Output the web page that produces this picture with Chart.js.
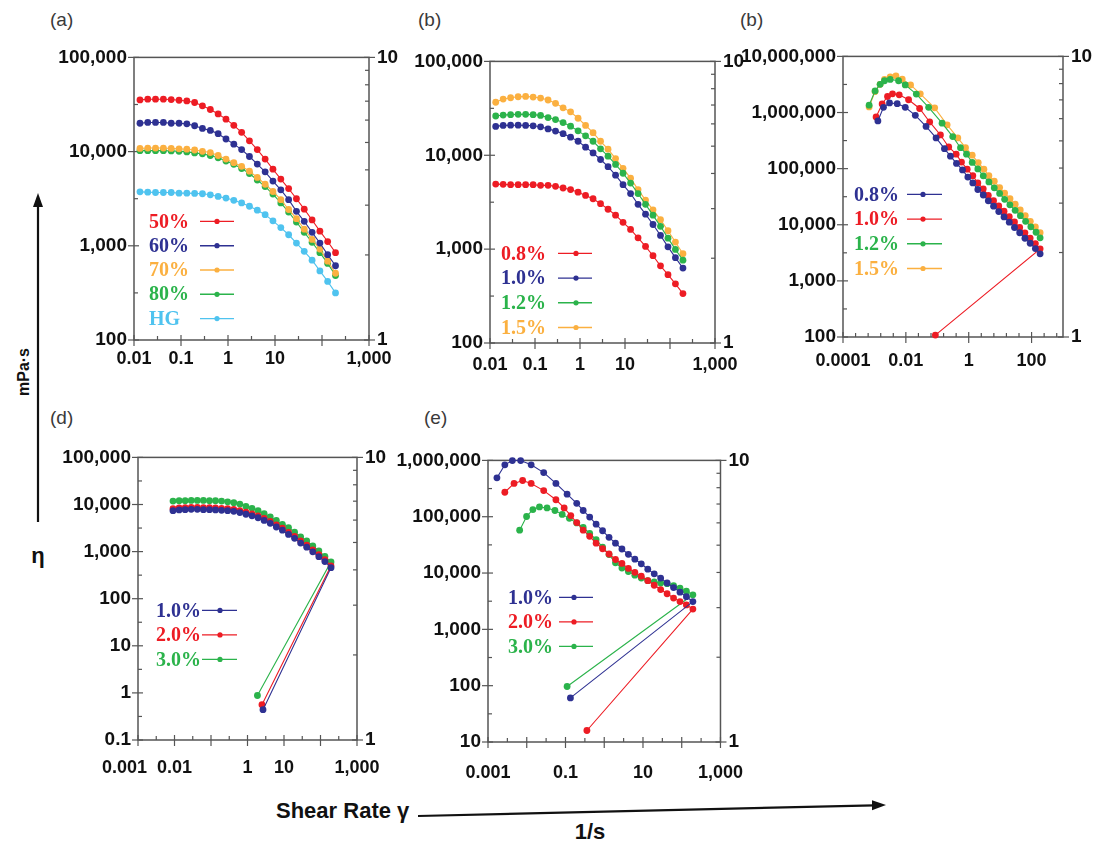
<!DOCTYPE html>
<html>
<head>
<meta charset="utf-8">
<script src="https://cdn.jsdelivr.net/npm/chart.js@4.4.1/dist/chart.umd.min.js"></script>
<style>
  body { margin:0; background:#fff; width:1097px; height:841px; position:relative; overflow:hidden; font-family:"Liberation Sans", Arial, sans-serif; }
  canvas.panel { position:absolute; }
  .tag { position:absolute; font-size:19px; line-height:20px; color:#3a3a3a; }
  .big { position:absolute; font-weight:bold; color:#111; white-space:nowrap; }
</style>
</head>
<body>
<svg width="1097" height="841" style="position:absolute;left:0;top:0">
  <line x1="38" y1="522" x2="38" y2="205" stroke="#111" stroke-width="2.2"/>
  <polygon points="38,193 33,207 43,207" fill="#111"/>
  <line x1="418" y1="816" x2="874" y2="805.3" stroke="#111" stroke-width="2.2"/>
  <polygon points="886,805 872,800.3 872,810.3" fill="#111"/>
</svg>

<div class="tag" style="left:50px;top:10px">(a)</div>
<div class="tag" style="left:418px;top:10px">(b)</div>
<div class="tag" style="left:740px;top:10px">(b)</div>
<div class="tag" style="left:50px;top:408px">(d)</div>
<div class="tag" style="left:424px;top:408px">(e)</div>

<div class="big" style="left:24px;top:372px;font-size:16px;transform:translate(-50%,-50%) rotate(-90deg)">mPa·s</div>
<div class="big" style="left:38px;top:556px;font-size:22px;transform:translate(-50%,-50%)">η</div>
<div class="big" style="left:276px;top:811px;font-size:22px;transform:translateY(-50%)">Shear Rate γ</div>
<div class="big" style="left:590px;top:832px;font-size:22px;transform:translate(-50%,-50%)">1/s</div>

<canvas id="pa" class="panel"></canvas>
<canvas id="pb" class="panel"></canvas>
<canvas id="pc" class="panel"></canvas>
<canvas id="pd" class="panel"></canvas>
<canvas id="pe" class="panel"></canvas>

<script>
// shear rate steps used by the rheometer runs (1/s)
const rateGrid = [0.0091, 0.0134, 0.0196, 0.0287, 0.0422, 0.0619, 0.0908, 0.133, 0.195, 0.286, 0.421, 0.617, 0.906, 1.33, 1.95, 2.86, 4.20, 6.17, 9.04, 13.3, 19.5, 28.6, 41.9, 61.5, 90.2, 132, 194];

// (a)
const legendA = ['50%', '60%', '70%', '80%', 'HG'];
const rateA = rateGrid.slice(1);
const a50 = [35400, 36000, 36000, 36000, 35700, 35100, 34500, 33200, 30600, 28000, 25100, 22100, 19000, 16000, 13000, 10500, 8320, 6500, 5110, 4050, 3160, 2450, 1880, 1430, 1110, 845];
const a60 = [20000, 20400, 20400, 20400, 20000, 20000, 19700, 18800, 17600, 16800, 15500, 13600, 12000, 10500, 8870, 7380, 6100, 4870, 3930, 3090, 2320, 1820, 1390, 1070, 805, 614];
const a70 = [10800, 10900, 10900, 10900, 10800, 10700, 10600, 10400, 10070, 9770, 9090, 8320, 7620, 6980, 6190, 5320, 4500, 3770, 3090, 2430, 1940, 1500, 1170, 922, 687, 511];
const a80 = [10230, 10230, 10230, 10230, 10160, 10070, 9930, 9690, 9460, 9090, 8590, 7930, 7320, 6600, 5850, 4990, 4250, 3540, 2850, 2280, 1790, 1390, 1090, 845, 650, 483];
const aHG = [3740, 3710, 3680, 3680, 3680, 3620, 3620, 3600, 3570, 3480, 3340, 3210, 3040, 2850, 2630, 2390, 2140, 1840, 1560, 1310, 1070, 873, 703, 541, 419, 316];

// (b) left
const legendB = ['0.8%', '1.0%', '1.2%', '1.5%'];
const rateB = rateGrid.slice(1);
const b08 = [4930, 4900, 4860, 4860, 4860, 4860, 4780, 4780, 4670, 4480, 4310, 4040, 3730, 3440, 3050, 2660, 2300, 1930, 1620, 1320, 1070, 851, 664, 535, 427, 336];
const b10 = [20300, 20800, 20900, 20900, 20800, 20600, 20100, 19100, 18100, 17000, 15600, 14100, 12200, 10600, 9010, 7550, 6130, 4860, 3910, 3000, 2360, 1830, 1400, 1057, 811, 628];
const b12 = [26200, 26800, 27100, 27300, 27300, 27100, 26600, 25200, 24000, 22300, 20400, 18200, 16100, 14100, 11700, 9770, 7990, 6430, 5050, 3910, 3000, 2300, 1750, 1310, 993, 762];
const b15 = [36700, 39700, 41000, 42000, 42400, 41700, 40700, 38800, 35800, 32000, 29000, 24800, 20800, 17400, 14100, 11600, 9230, 7260, 5700, 4310, 3330, 2620, 2060, 1570, 1190, 894];

// (b) right
const legendC = ['0.8%', '1.0%', '1.2%', '1.5%'];
const c08Rate = [0.00129, 0.00194, 0.00302, 0.00531, 0.00957, 0.0200, 0.0439, 0.0916, 0.169, 0.262, 0.408, 0.634, 0.938, 1.35, 1.95, 2.90, 4.20, 6.17, 9.04, 13.3, 19.5, 28.6, 41.9, 61.5, 90.2, 132, 187];
const c08 = [708000, 1240000, 1480000, 1440000, 1240000, 890000, 565000, 353000, 227000, 167000, 124000, 94900, 70800, 55600, 42500, 33900, 26700, 21400, 17200, 13800, 11100, 8930, 7200, 5750, 4680, 3760, 3040];
const c10Rate = [0.00113, 0.00176, 0.00261, 0.00376, 0.00615, 0.0122, 0.0274, 0.0572, 0.126, 0.231, 0.398, 0.589, 0.895, 1.35, 1.95, 2.90, 4.20, 6.17, 9.04, 13.3, 19.5, 28.6, 41.9, 61.5, 90.2, 132, 187, 0.0869];
const c10 = [832000, 1420000, 1930000, 2150000, 2070000, 1690000, 1180000, 679000, 398000, 243000, 181000, 131000, 97700, 74700, 55600, 43700, 33400, 26900, 21600, 17400, 13900, 11200, 8950, 7190, 5780, 4630, 3720, 108];
const c12Rate = [0.000678, 0.00105, 0.00152, 0.00209, 0.00318, 0.00586, 0.00957, 0.0215, 0.0531, 0.142, 0.310, 0.547, 0.851, 1.29, 1.95, 2.90, 4.39, 6.50, 9.64, 13.9, 20.4, 30.0, 44.1, 64.6, 94.8, 139, 187];
const c12 = [1350000, 2430000, 3180000, 3680000, 3890000, 3680000, 3100000, 2130000, 1240000, 646000, 372000, 236000, 181000, 129000, 98900, 74600, 57900, 45500, 36200, 28400, 22700, 18100, 14500, 11500, 9200, 7350, 5860];
const c15Rate = [0.000678, 0.00105, 0.00152, 0.00209, 0.00318, 0.00483, 0.00767, 0.0141, 0.0288, 0.0826, 0.206, 0.449, 0.791, 1.29, 2.01, 3.04, 4.39, 6.50, 9.64, 13.9, 20.6, 30.2, 43.6, 63.1, 91.2, 132, 187];
const c15 = [1260000, 2370000, 3180000, 3890000, 4320000, 4500000, 3940000, 3100000, 2150000, 1210000, 603000, 353000, 236000, 174000, 128000, 97700, 74700, 59600, 46000, 36700, 29200, 23200, 18400, 14600, 11500, 9140, 7240];

// (d)
const legendD = ['1.0%', '2.0%', '3.0%'];
const d10Rate = rateGrid.concat([2.66]);
const d20Rate = rateGrid.concat([2.49]);
const d30Rate = rateGrid.concat([1.87]);
const d10 = [7410, 7660, 7780, 7890, 7890, 7780, 7780, 7660, 7540, 7410, 7180, 6730, 6210, 5750, 5230, 4590, 3980, 3330, 2850, 2310, 1910, 1520, 1240, 991, 780, 614, 455, 0.44];
const d20 = [8170, 8440, 8570, 8700, 8700, 8570, 8570, 8440, 8280, 8170, 7890, 7410, 6840, 6330, 5750, 5060, 4380, 3670, 3130, 2550, 2100, 1680, 1370, 1090, 859, 676, 500, 0.56];
const d30 = [11800, 12000, 12000, 12200, 12200, 12200, 12000, 12000, 11800, 11400, 10900, 10200, 9120, 8280, 7410, 6420, 5480, 4590, 3790, 3240, 2580, 2060, 1680, 1320, 1030, 791, 605, 0.88];

// (e)
const legendE = ['1.0%', '2.0%', '3.0%'];
const e10Rate = [0.00170, 0.00272, 0.00426, 0.00696, 0.0130, 0.0274, 0.0566, 0.110].concat(rateGrid.slice(8), [0.134]);
const e20Rate = [0.00272, 0.00470, 0.00783, 0.0130, 0.0274, 0.0566, 0.0924, 0.137].concat(rateGrid.slice(8), [0.357]);
const e30Rate = [0.00656, 0.00991, 0.0144, 0.0213, 0.0334, 0.0534, 0.0822, 0.126].concat(rateGrid.slice(8), [0.110]);
const e10 = [490000, 835000, 994000, 994000, 835000, 607000, 390000, 251000, 173000, 129000, 98600, 73600, 56300, 43100, 33900, 26700, 21500, 17600, 14600, 11700, 9680, 8130, 6660, 5520, 4580, 3800, 3110, 60.7];
const e20 = [272000, 390000, 440000, 390000, 291000, 200000, 143000, 105000, 78700, 57800, 44900, 33900, 27000, 21800, 17400, 14800, 12100, 10300, 8810, 7310, 6070, 5090, 4290, 3600, 3110, 2720, 2290, 16.0];
const e30 = [57800, 101000, 134000, 149000, 143000, 129000, 110000, 93500, 77600, 64400, 50600, 39300, 28900, 21300, 15200, 12300, 10600, 9170, 8130, 7310, 6930, 6660, 6480, 5980, 5370, 4760, 4110, 96.8];

// axis labels shown on each panel
const xLabA = [0.01, 0.1, 1, 10, 1000];
const xLabB = [0.01, 0.1, 1, 10, 1000];
const xLabC = [0.0001, 0.01, 1, 100];
const xLabD = [0.001, 0.01, 1, 10, 1000];
const xLabE = [0.001, 0.1, 10, 1000];
const yLabA = [100, 1000, 10000, 100000];
const yLabB = [100, 1000, 10000, 100000];
const yLabC = [100, 1000, 10000, 100000, 1000000, 10000000];
const yLabD = [0.1, 1, 10, 100, 1000, 10000, 100000];
const yLabE = [10, 100, 1000, 10000, 100000, 1000000];
const rightLab = [1, 10];

const col = { red: '#ed1c24', navy: '#2e3192', gold: '#fbb040', green: '#2bb34b', sky: '#4fc3ef' };

const fmt = v => v >= 1 ? Math.round(v).toLocaleString('en-US') : String(v);
const pts = (xs, ys) => xs.map((x, i) => ({ x: x, y: ys[i] }));
const decades = (lo, hi, off) => {
  const out = [];
  for (let e = Math.round(Math.log10(lo)); e < Math.round(Math.log10(hi)) + 0.01; e++) {
    const v = Math.pow(10, e + off);
    if (v >= lo * 0.999 && v <= hi * 1.001) out.push(v);
  }
  return out;
};

// frame, tick marks and the hand-placed legend
const framePlugin = {
  id: 'frame',
  beforeDatasetsDraw(chart, args, o) {
    const { ctx, chartArea: a, scales } = chart;
    const line = (x1, y1, x2, y2) => { ctx.beginPath(); ctx.moveTo(x1, y1); ctx.lineTo(x2, y2); ctx.stroke(); };
    ctx.save();
    ctx.strokeStyle = '#555';
    ctx.lineWidth = 1.5;
    ctx.strokeRect(a.left, a.top, a.right - a.left, a.bottom - a.top);
    ctx.lineWidth = 1.2;
    o.xMajor.forEach(v => { const p = scales.x.getPixelForValue(v); line(p, a.bottom - 5, p, a.bottom + 6); });
    o.xMinor.forEach(v => { const p = scales.x.getPixelForValue(v); line(p, a.bottom - 4, p, a.bottom); });
    o.yMajor.forEach(v => { const p = scales.y.getPixelForValue(v); line(a.left - 6, p, a.left + 5, p); });
    o.yMinor.forEach(v => { const p = scales.y.getPixelForValue(v); line(a.left, p, a.left + 4, p); });
    [1, 10].forEach(v => { const p = scales.y1.getPixelForValue(v); line(a.right - 5, p, a.right + 6, p); });
    [2, 3, 4, 5, 6, 7, 8, 9].forEach(v => { const p = scales.y1.getPixelForValue(v); line(a.right - 4, p, a.right, p); });
    ctx.restore();
  },
  afterDraw(chart, args, o) {
    const { ctx, chartArea: a } = chart;
    const lg = o.legend;
    ctx.save();
    ctx.font = 'bold 20px "Liberation Serif", "Times New Roman", serif';
    ctx.textBaseline = 'middle';
    lg.items.forEach((it, i) => {
      const y = a.top + lg.y + i * lg.dy;
      ctx.fillStyle = it.color;
      ctx.fillText(it.text, a.left + lg.x, y + 1);
      ctx.strokeStyle = it.color;
      ctx.lineWidth = 1.4;
      ctx.beginPath(); ctx.moveTo(a.left + lg.l0, y); ctx.lineTo(a.left + lg.l1, y); ctx.stroke();
      ctx.beginPath(); ctx.arc(a.left + lg.dot, y, 2.6, 0, Math.PI * 2); ctx.fill();
    });
    ctx.restore();
  }
};

const xFont = { family: '"Liberation Sans", Arial, sans-serif', size: 18, weight: 'bold' };
const yFont = { family: '"Liberation Sans", Arial, sans-serif', size: 19, weight: 'bold' };

function drawPanel(id, p) {
  const cv = document.getElementById(id);
  cv.width = p.wl + p.w + p.wr;
  cv.height = p.pt + p.h + 46;
  cv.style.left = (p.left - p.wl) + 'px';
  cv.style.top = (p.top - p.pt) + 'px';

  const setTicks = vals => scale => { scale.ticks = vals.map(v => ({ value: v })); };
  const pad = p.xPad || {};

  new Chart(cv, {
    type: 'scatter',
    data: {
      datasets: p.series.map(s => ({
        data: pts(s.x, s.y),
        showLine: true,
        borderColor: s.color,
        backgroundColor: s.color,
        borderWidth: 1.1,
        pointRadius: 3.4,
        pointBorderWidth: 0,
        tension: 0,
        clip: false
      }))
    },
    options: {
      responsive: false,
      animation: false,
      layout: { padding: { top: p.pt, left: 0, right: 0, bottom: 0 } },
      plugins: {
        legend: { display: false },
        tooltip: { enabled: false },
        frame: {
          xMajor: p.xMajor, xMinor: p.xMinor,
          yMajor: decades(p.ymin, p.ymax, 0), yMinor: decades(p.ymin, p.ymax, 0.5),
          legend: p.legend
        }
      },
      scales: {
        x: {
          type: 'logarithmic', position: 'bottom', min: p.xmin, max: p.xmax,
          grid: { display: false, drawTicks: false }, border: { display: false },
          afterBuildTicks: setTicks(p.xLab),
          afterFit: s => { s.height = 46; },
          ticks: { autoSkip: false, maxRotation: 0, padding: p.xGap, color: '#111', font: xFont,
                   callback: v => fmt(v) + (pad[fmt(v)] || '') }
        },
        y: {
          type: 'logarithmic', position: 'left', min: p.ymin, max: p.ymax,
          grid: { display: false, drawTicks: false }, border: { display: false },
          afterBuildTicks: setTicks(p.yLab),
          afterFit: s => { s.width = p.wl; },
          ticks: { autoSkip: false, padding: 7, color: '#111', font: yFont, callback: v => fmt(v) }
        },
        y1: {
          type: 'logarithmic', position: 'right', min: 1, max: 10,
          grid: { display: false, drawTicks: false }, border: { display: false },
          afterBuildTicks: setTicks(rightLab),
          afterFit: s => { s.width = p.wr; },
          ticks: { autoSkip: false, padding: 8, color: '#111', font: yFont, callback: v => fmt(v) }
        }
      }
    },
    plugins: [framePlugin]
  });
}

const halfDecades = (lo, hi) => decades(lo, hi, 0.5);

drawPanel('pa', {
  left: 134, top: 52, w: 235, h: 288, wl: 85, wr: 40, pt: 14, xGap: 8,
  xmin: 0.01, xmax: 1000, ymin: 100, ymax: 100000,
  xLab: xLabA, yLab: yLabA, xMajor: decades(0.01, 1000, 0), xMinor: halfDecades(0.01, 1000),
  series: [
    { x: rateA, y: a50, color: col.red },
    { x: rateA, y: a60, color: col.navy },
    { x: rateA, y: a70, color: col.gold },
    { x: rateA, y: a80, color: col.green },
    { x: rateA, y: aHG, color: col.sky }
  ],
  legend: { x: 15, y: 164, dy: 24.3, l0: 66, l1: 100, dot: 83,
    items: legendA.map((t, i) => ({ text: t, color: [col.red, col.navy, col.gold, col.green, col.sky][i] })) }
});

drawPanel('pb', {
  left: 490, top: 56, w: 225, h: 287, wl: 85, wr: 40, pt: 14, xGap: 11,
  xmin: 0.01, xmax: 1000, ymin: 100, ymax: 100000,
  xLab: xLabB, yLab: yLabB, xMajor: decades(0.01, 1000, 0), xMinor: halfDecades(0.01, 1000),
  series: [
    { x: rateB, y: b08, color: col.red },
    { x: rateB, y: b10, color: col.navy },
    { x: rateB, y: b12, color: col.green },
    { x: rateB, y: b15, color: col.gold }
  ],
  legend: { x: 11, y: 192, dy: 24.7, l0: 68, l1: 102, dot: 86,
    items: legendB.map((t, i) => ({ text: t, color: [col.red, col.navy, col.green, col.gold][i] })) }
});

drawPanel('pc', {
  left: 843, top: 51, w: 220, h: 286, wl: 105, wr: 34, pt: 14, xGap: 13,
  xmin: 0.0001, xmax: 1000, ymin: 100, ymax: 10000000,
  xLab: xLabC, yLab: yLabC, xMajor: xLabC,
  xMinor: [-3.6, -3.2, -2.8, -2.4, -1.6, -1.2, -0.8, -0.4, 0.4, 0.8, 1.2, 1.6, 2.4, 2.8].map(e => Math.pow(10, e)),
  series: [
    { x: c08Rate, y: c08, color: col.navy },
    { x: c10Rate, y: c10, color: col.red },
    { x: c12Rate, y: c12, color: col.green },
    { x: c15Rate, y: c15, color: col.gold }
  ],
  legend: { x: 11, y: 138, dy: 24.7, l0: 64, l1: 99, dot: 80,
    items: legendC.map((t, i) => ({ text: t, color: [col.navy, col.red, col.green, col.gold][i] })) }
});

drawPanel('pd', {
  left: 138, top: 452, w: 219, h: 288, wl: 85, wr: 40, pt: 14, xGap: 17,
  xmin: 0.001, xmax: 1000, ymin: 0.1, ymax: 100000,
  xLab: xLabD, yLab: yLabD, xMajor: decades(0.001, 1000, 0), xMinor: halfDecades(0.001, 1000),
  xPad: { '0.001': '\u2002\u2002\u2002' },
  series: [
    { x: d10Rate, y: d10, color: col.navy },
    { x: d20Rate, y: d20, color: col.red },
    { x: d30Rate, y: d30, color: col.green }
  ],
  legend: { x: 18, y: 153, dy: 24.5, l0: 64, l1: 99, dot: 82,
    items: legendD.map((t, i) => ({ text: t, color: [col.navy, col.red, col.green][i] })) }
});

drawPanel('pe', {
  left: 488, top: 455, w: 235, h: 287, wl: 100, wr: 40, pt: 14, xGap: 20,
  xmin: 0.001, xmax: 1000, ymin: 10, ymax: 1000000,
  xLab: xLabE, yLab: yLabE, xMajor: decades(0.001, 1000, 0), xMinor: halfDecades(0.001, 1000),
  series: [
    { x: e10Rate, y: e10, color: col.navy },
    { x: e20Rate, y: e20, color: col.red },
    { x: e30Rate, y: e30, color: col.green }
  ],
  legend: { x: 20, y: 137, dy: 24.5, l0: 71, l1: 105, dot: 86,
    items: legendE.map((t, i) => ({ text: t, color: [col.navy, col.red, col.green][i] })) }
});
</script>
</body>
</html>
